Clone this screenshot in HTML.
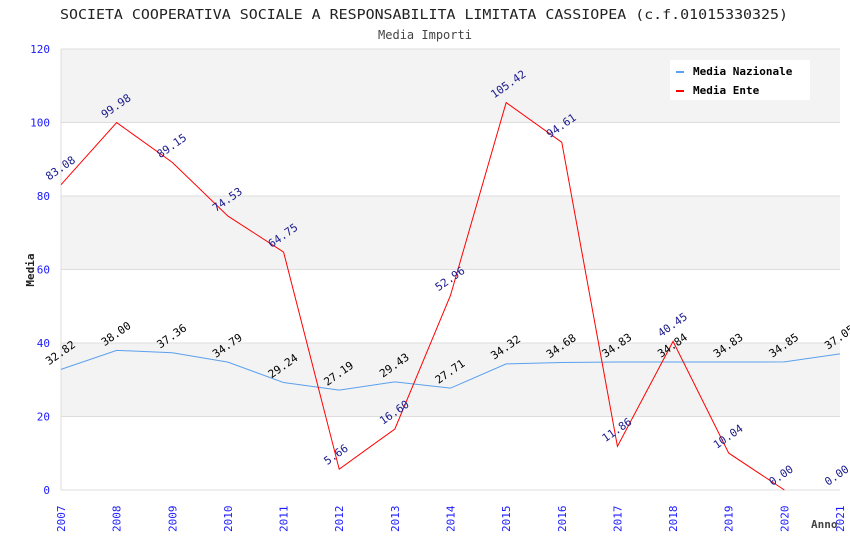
<!DOCTYPE html>
<html><head><meta charset="utf-8"><style>
body{margin:0;background:#fff;}
svg text{font-family:"DejaVu Sans Mono","Liberation Mono",monospace;}
</style></head><body>
<svg id="chart" width="850" height="550">
<text x="424" y="19" text-anchor="middle" font-size="13" fill="#222" textLength="728" lengthAdjust="spacingAndGlyphs">SOCIETA COOPERATIVA SOCIALE A RESPONSABILITA LIMITATA CASSIOPEA (c.f.01015330325)</text>
<text x="425" y="39" text-anchor="middle" font-size="12" fill="#444">Media Importi</text>
<g id="bands"></g><g id="grid"></g><g id="axes"></g><g id="series"></g>
<text x="34" y="270" transform="rotate(-90 34 270)" text-anchor="middle" font-size="11" font-weight="bold" fill="#222">Media</text>
<text x="811" y="528" font-size="11" font-weight="bold" fill="#444">Anno</text>
<g>
<rect x="670" y="60" width="140" height="40" fill="#fff"/>
<g><rect x="676" y="71" width="8" height="2" fill="#5aa0ee"/><text x="693" y="75" font-size="11" font-weight="bold" fill="#000">Media Nazionale</text></g>
<g><rect x="676" y="90" width="8" height="2" fill="#ff0000"/><text x="693" y="94" font-size="11" font-weight="bold" fill="#000">Media Ente</text></g>
</g>
</svg>
<script>
const years=["2007","2008","2009","2010","2011","2012","2013","2014","2015","2016","2017","2018","2019","2020","2021"];
const nazionale=[32.82,38.00,37.36,34.79,29.24,27.19,29.43,27.71,34.32,34.68,34.83,34.84,34.83,34.85,37.05];
const ente=[83.08,99.98,89.15,74.53,64.75,5.66,16.60,52.96,105.42,94.61,11.86,40.45,10.04,0.00,null];
const yTicks=[0,20,40,60,80,100,120];
const entelabels=[83.08,99.98,89.15,74.53,64.75,5.66,16.60,52.96,105.42,94.61,11.86,40.45,10.04,0.00,0.00];
const NS="http://www.w3.org/2000/svg";
const L=61,R=840,T=49,B=490;
const xs=i=>L+i*(R-L)/(years.length-1);
const ys=v=>B-v*(B-T)/120;
function mk(tag,attrs,parent,txt){const e=document.createElementNS(NS,tag);for(const k in attrs)e.setAttribute(k,attrs[k]);if(txt!==undefined)e.textContent=txt;parent.appendChild(e);return e;}
const bands=document.getElementById('bands'),grid=document.getElementById('grid'),axes=document.getElementById('axes'),ser=document.getElementById('series');
for(let i=0;i<yTicks.length-1;i++){
 const r=mk('rect',{x:L,y:ys(yTicks[i+1]),width:R-L,height:ys(yTicks[i])-ys(yTicks[i+1]),fill:i%2?'#f3f3f3':'#fff'},bands);
 
 
}
yTicks.forEach(v=>{
 const l=mk('line',{x1:L,x2:R,y1:ys(v),y2:ys(v),stroke:'#ddd'},grid);
 
 
 const t=mk('text',{x:L-11,y:ys(v)+4,'text-anchor':'end','font-size':11,fill:'#1a1aff'},axes,String(v));
 
 
});
mk('line',{x1:L,x2:L,y1:T,y2:B,stroke:'#ddd'},grid);
years.forEach((y,i)=>{
 const x=xs(i)+4;
 const t=mk('text',{x:x,y:532,transform:`rotate(-90 ${x} 532)`,'font-size':11,fill:'#1a1aff'},axes,y);
 
 
});
function line(vals,color,name){
 const pts=[];vals.forEach((v,i)=>{if(v!==null)pts.push(xs(i)+','+ys(v));});
 const p=mk('polyline',{points:pts.join(' '),fill:'none',stroke:color,'stroke-width':1},ser);
 
 
}
line(nazionale,'#5aa0ee','line-media-nazionale');
line(ente,'#ff0000','line-media-ente');
function labels(vals,color,name){
 vals.forEach((v,i)=>{
  const x=xs(i)-12,y=ys(v)-4;
  const t=mk('text',{x:x,y:y,transform:`rotate(-35 ${x} ${y})`,'font-size':11,'font-family':'Liberation Sans, sans-serif',fill:color},ser,v.toFixed(2));
  
  
 });
}
labels(nazionale,'#000','label-nazionale');
labels(entelabels,'#1a1a8c','label-ente');
</script>
</body></html>
